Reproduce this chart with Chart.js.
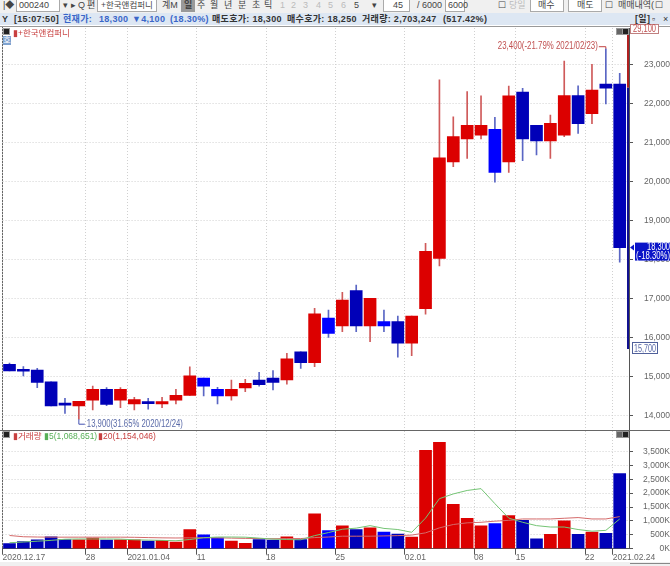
<!DOCTYPE html>
<html lang="ko">
<head>
<meta charset="utf-8">
<title>한국앤컴퍼니</title>
<script src="https://cdn.jsdelivr.net/npm/chart.js@4/dist/chart.umd.min.js"></script>
<style>
  html, body { margin: 0; padding: 0; background: #fff; }
  body { width: 670px; height: 566px; position: relative; overflow: hidden;
         font: 9px "Liberation Sans", "Noto Sans CJK KR", sans-serif; color: #444; }
  canvas { position: absolute; left: 0; }
  .bar { position: absolute; left: 0; width: 670px; }
  .t { position: absolute; white-space: nowrap; }
  .box { position: absolute; border: 1px solid #aaa; background: #fff; box-sizing: border-box; }
  .dim { color: #bbb; }
  #top { top: 0; height: 13px; background: #f0f0f0; overflow: hidden; }
  #top .t { top: 0; line-height: 11px; }
  #info { top: 13px; height: 12px; background: #dde7f3; font-weight: bold; color: #333; letter-spacing: .3px; }
  #info .t { top: 0; line-height: 12px; }
  .blue { color: #3a66c8; }
  .line { position: absolute; background: #666; }
  .mini { position: absolute; width: 5px; height: 5px; background: #222; border: 1px solid #999; }
  .legend { position: absolute; line-height: 11px; font-size: 8.5px; }
</style>
</head>
<body>
<div class="bar" id="top">
  <span class="t" style="left:3px">|◆</span>
  <div class="box" style="left:16px;top:-3px;width:44px;height:15px"></div>
  <span class="t" style="left:19px">000240</span>
  <span class="t" style="left:63px">▾</span><span class="t" style="left:71px">▸</span>
  <span class="t" style="left:78px">Q</span><span class="t" style="left:87px">편</span>
  <div class="box" style="left:97px;top:-3px;width:60px;height:15px"></div>
  <span class="t" style="left:101px;font-size:8.5px">+한국앤컴퍼니</span>
  <span class="t" style="left:162px">계M</span>
  <div style="position:absolute;left:181px;top:0;width:14px;height:12px;background:#999"></div>
  <span class="t" style="left:184px;font-weight:bold">일</span>
  <span class="t" style="left:197px">주</span><span class="t" style="left:210px">월</span>
  <span class="t" style="left:224px">년</span><span class="t" style="left:238px">분</span>
  <span class="t" style="left:252px">초</span><span class="t" style="left:264px">틱</span>
  <span class="t dim" style="left:280px">1</span><span class="t dim" style="left:291px">2</span>
  <span class="t dim" style="left:303px">3</span><span class="t dim" style="left:316px">4</span>
  <span class="t dim" style="left:328px">5</span><span class="t dim" style="left:341px">6</span>
  <span class="t" style="left:354px">5</span><span class="t" style="left:372px">▾</span>
  <div class="box" style="left:383px;top:-3px;width:27px;height:15px"></div>
  <span class="t" style="left:393px">45</span>
  <span class="t" style="left:417px">/ 6000</span>
  <div class="box" style="left:445px;top:-3px;width:20px;height:15px"></div>
  <span class="t" style="left:448px">6000</span>
  <span class="t" style="left:498px">☐</span><span class="t dim" style="left:509px">당일</span>
  <div class="box" style="left:530px;top:-3px;width:34px;height:15px"></div>
  <span class="t" style="left:538px">매수</span>
  <div class="box" style="left:568px;top:-3px;width:34px;height:15px"></div>
  <span class="t" style="left:577px">매도</span>
  <span class="t" style="left:605px">☐</span><span class="t" style="left:618px">매매내역(</span>
  <span class="t" style="left:655px">☐</span>
</div>
<div class="bar" id="info">
  <span class="t" style="left:2px">Y</span>
  <span class="t" style="left:14px">[15:07:50]</span>
  <span class="t blue" style="left:63px">현재가:</span>
  <span class="t blue" style="left:99px">18,300</span>
  <span class="t blue" style="left:132px">▼4,100</span>
  <span class="t blue" style="left:170px">(18.30%)</span>
  <span class="t" style="left:212px">매도호가: 18,300</span>
  <span class="t" style="left:287px">매수호가: 18,250</span>
  <span class="t" style="left:362px">거래량: 2,703,247</span>
  <span class="t" style="left:443px">(517.42%)</span>
  <span class="t" style="left:635px">[일]</span>
  <span class="t" style="left:652px;font-weight:normal">▫</span>
  <span class="t" style="left:663px;font-weight:normal">×</span>
</div>

<div class="line" style="left:0;top:26px;width:670px;height:1px;background:#999"></div>
<div class="line" style="left:2px;top:27px;width:1px;height:522px"></div>
<div class="line" style="left:0;top:430px;width:670px;height:1px"></div>

<canvas id="chart-price" width="670" height="406" style="top:24px"></canvas>
<canvas id="chart-volume" width="670" height="135" style="top:431px"></canvas>

<div class="mini" style="left:3px;top:28px"></div>
<div class="mini" style="left:3px;top:431px"></div>
<div style="position:absolute;left:3px;top:36px;width:8px;height:9px;background:#7fa3d0;color:#fff;font-size:8px;line-height:9px;text-align:center">호</div>
<div class="mini" style="left:616px;top:28px;background:#666"></div>
<div class="mini" style="left:622px;top:28px"></div>
<div class="mini" style="left:616px;top:431px;background:#666"></div>
<div class="mini" style="left:622px;top:431px"></div>

<div class="legend" style="left:13px;top:28px;color:#c84040">▮+한국앤컴퍼니</div>
<div class="legend" style="left:13px;top:431px;color:#c84040">▮거래량</div>
<div class="legend" style="left:44px;top:431px;color:#58b058">▮5(1,068,651)</div>
<div class="legend" style="left:98px;top:431px;color:#c84040">▮20(1,154,046)</div>

<div class="bar" style="top:562px;height:4px;background:#f0f0f0"></div>
<div class="line" style="left:630px;top:563px;width:40px;height:1px;background:#888"></div>

<script>
// ── Data ──────────────────────────────────────────────────────────────────────
const DATES = [
  '2020.12.17', '12.18', '12.21', '12.22', '12.23', '12.24', '12.28', '12.29', '12.30',
  '2021.01.04', '01.05', '01.06', '01.07', '01.08', '01.11', '01.12', '01.13', '01.14', '01.15',
  '01.18', '01.19', '01.20', '01.21', '01.22', '01.25', '01.26', '01.27', '01.28', '01.29',
  '02.01', '02.02', '02.03', '02.04', '02.05', '02.08', '02.09', '02.10', '02.15', '02.16',
  '02.17', '02.18', '02.19', '02.22', '02.23', '2021.02.24',
]
const OPENS = [
  15308, 15140, 15160, 14860, 14306, 14240, 14390, 14665, 14390, 14290, 14310, 14290, 14390, 14510, 14955,
  14665, 14500, 14700, 14905, 14955, 14905, 15630, 15350, 16495, 16290, 17195, 16290, 16400, 16400, 15850,
  16735, 18025, 20495, 21085, 21180, 21335, 20495, 22290, 21435, 21035, 21185, 22195, 21735, 22490, 22490,
]
const CLOSES = [
  15136, 15130, 14845, 14240, 14260, 14360, 14665, 14280, 14665, 14400, 14300, 14350, 14510, 15010, 14750,
  14500, 14665, 14820, 14785, 14845, 15445, 15350, 16600, 16100, 16955, 16290, 17000, 16290, 15850, 16545,
  18205, 20600, 21145, 21435, 21435, 20230, 22190, 21085, 21035, 21485, 22195, 21475, 22340, 22385, 18300,
]
const HIGHS = [
  15341, 15250, 15205, 14860, 14435, 14360, 14750, 14710, 14710, 14460, 14435, 14460, 14665, 15245, 14955,
  14715, 14905, 14925, 15100, 15145, 15590, 15630, 16745, 16700, 17155, 17340, 17000, 16700, 16545, 16545,
  18410, 22600, 21655, 22300, 22190, 21640, 22440, 22385, 21435, 21700, 23085, 22445, 23000, 23400, 22770,
]
const LOWS = [
  15136, 15010, 14710, 14240, 14050, 13900, 14135, 14245, 14195, 14135, 14155, 14195, 14290, 14510, 14500,
  14290, 14390, 14605, 14750, 14650, 14800, 15205, 15245, 16000, 16145, 16145, 15890, 16145, 15490, 15530,
  16590, 17830, 20375, 20590, 21085, 19980, 20230, 20530, 20675, 20590, 21145, 21230, 21480, 21985, 17925,
]
// volume in thousands of shares
const VOLUMES = [
  180, 260, 320, 430, 330, 320, 380, 310, 320, 320, 270, 300, 240, 690, 500,
  390, 270, 190, 330, 310, 430, 330, 1250, 650, 820, 690, 750, 600, 530, 420,
  3535, 3830, 1600, 1095, 820, 900, 1190, 1020, 355, 520, 1000, 520, 600, 550, 2703,
]
const VOLUME_MA5 = [
  215, 240, 270, 300, 340, 350, 350, 350, 345, 320, 310, 300, 285, 330, 395,
  420, 420, 415, 380, 345, 330, 320, 470, 580, 700, 740, 830, 730, 690, 590,
  1100, 1800, 1970, 2095, 2160, 1620, 1100, 950, 830, 780, 780, 690, 630, 660, 1069,
]
const VOLUME_MA20 = [
  475, 430, 420, 415, 415, 415, 415, 415, 415, 410, 400, 390, 385, 390, 395,
  390, 380, 370, 365, 360, 365, 365, 400, 420, 450, 450, 450, 460, 470, 490,
  570, 750, 870, 930, 950, 990, 1020, 1070, 1070, 1070, 1095, 1120, 1070, 1070, 1154,
]
const PRICE_TICKS  = [14000, 15000, 16000, 17000, 18000, 19000, 20000, 21000, 22000, 23000]
const VOLUME_TICKS = [0, 500, 1000, 1500, 2000, 2500, 3000, 3500]
const AXIS_LABELS  = { 0: '2020.12.17', 6: '28', 9: '2021.01.04', 14: '11', 19: '18', 24: '25', 29: '02.01', 34: '08', 37: '15', 42: '22', 44: '2021.02.24' }
const BRIGHT_BLUE  = [14, 15, 23, 27, 35]

const UPPER_LIMIT = 29100
const LOWER_LIMIT = 15700
const PREV_CLOSE  = 22400
const LAST_PRICE  = 18300

// ── Colors ────────────────────────────────────────────────────────────────────
const RED        = '#dc0000'
const BLUE       = '#0000b8'
const BRIGHT     = '#0000ff'
const RED_WICK   = '#cf5a5a'
const BLUE_WICK  = '#5a66c4'
const GRID       = '#d0d0d0'
const AXIS       = '#555'
const TICK_TEXT  = '#666'
const FAMILY     = '"Liberation Sans", sans-serif'
const FONT       = { family: FAMILY, size: 8.5 }

// ── Helpers ───────────────────────────────────────────────────────────────────
function fmt(n) { return n.toLocaleString('en-US') }

function bodyColor(i) {
  if (CLOSES[i] >= OPENS[i]) return RED
  return BRIGHT_BLUE.includes(i) ? BRIGHT : BLUE
}

function xAxis(showLabels) {
  return {
    type: 'linear',
    offset: false,
    min: -0.5,
    max: 44.67,
    afterBuildTicks: s => { s.ticks = Object.keys(AXIS_LABELS).map(i => ({ value: Number(i) - 0.5 })) },
    afterFit: s => { s.paddingLeft = 0; s.paddingRight = 0; s.height = showLabels ? 17.3 : 0 },
    grid: { offset: false, color: GRID, drawTicks: showLabels, tickLength: 6, tickColor: AXIS, tickBorderDash: [] },
    border: { display: showLabels, color: AXIS, dash: [1, 2] },
    ticks: {
      display: showLabels,
      autoSkip: false,
      maxRotation: 0,
      align: 'start',
      padding: -2,
      color: TICK_TEXT,
      font: FONT,
      callback: v => AXIS_LABELS[v + 0.5] ?? '',
    },
  }
}

function yAxis(tickValues, min, max, format) {
  return {
    position: 'right',
    min,
    max,
    afterBuildTicks: s => { s.ticks = tickValues.map(value => ({ value })) },
    afterFit: s => { s.width = 41; s.paddingTop = 0; s.paddingBottom = 0 },
    grid: { color: GRID, tickLength: 4, tickColor: AXIS, tickBorderDash: [] },
    border: { color: AXIS, dash: [1, 2] },
    ticks: { color: TICK_TEXT, font: FONT, padding: 0, crossAlign: 'far', callback: format },
  }
}

const baseOptions = {
  responsive: false,
  animation: false,
  devicePixelRatio: 1,
  plugins: { legend: { display: false }, tooltip: { enabled: false } },
}

// ── Price annotations: limit bar, high/low callouts, last price box ───────────
const priceMarks = {
  id: 'priceMarks',
  afterDraw(chart) {
    const { ctx, chartArea, scales: { x, y } } = chart
    const right = chartArea.right
    ctx.save()

    // limit range bar on the axis
    ctx.lineWidth = 2
    ctx.strokeStyle = '#b02020'
    ctx.beginPath()
    ctx.moveTo(right - 1, chartArea.top)
    ctx.lineTo(right - 1, y.getPixelForValue(PREV_CLOSE))
    ctx.stroke()
    ctx.strokeStyle = '#101090'
    ctx.beginPath()
    ctx.moveTo(right - 1, y.getPixelForValue(PREV_CLOSE))
    ctx.lineTo(right - 1, y.getPixelForValue(LOWER_LIMIT))
    ctx.stroke()

    ctx.font = `10px ${FAMILY}`
    ctx.textBaseline = 'middle'
    ctx.lineWidth = 1

    // high callout
    const hx = x.getPixelForValue(43)
    const hy = y.getPixelForValue(HIGHS[43])
    ctx.strokeStyle = '#c04040'
    ctx.beginPath()
    ctx.moveTo(hx, hy)
    ctx.lineTo(hx, hy - 2)
    ctx.lineTo(hx - 7, hy - 2)
    ctx.stroke()
    ctx.fillStyle = '#c05050'
    ctx.textAlign = 'right'
    ctx.fillText('23,400(-21.79% 2021/02/23)', hx - 8, hy - 2, 100)

    // low callout
    const lx = x.getPixelForValue(5)
    const ly = y.getPixelForValue(LOWS[5])
    ctx.strokeStyle = '#4050b0'
    ctx.beginPath()
    ctx.moveTo(lx, ly)
    ctx.lineTo(lx, ly + 5)
    ctx.lineTo(lx + 6, ly + 5)
    ctx.stroke()
    ctx.fillStyle = '#5a6aa8'
    ctx.textAlign = 'left'
    ctx.fillText('13,900(31.65% 2020/12/24)', lx + 8, ly + 5, 96)

    // upper / lower limit boxes
    ctx.textAlign = 'left'
    ctx.fillStyle = '#fff'
    ctx.fillRect(right + 1, chartArea.top - 3, 29, 9)
    ctx.strokeStyle = '#c08080'
    ctx.strokeRect(right + 1.5, chartArea.top - 3.5, 28, 9)
    ctx.fillStyle = '#c05050'
    ctx.fillText(fmt(UPPER_LIMIT), right + 4, chartArea.top + 1, 23)

    const lowY = y.getPixelForValue(LOWER_LIMIT)
    ctx.fillStyle = '#fff'
    ctx.fillRect(right + 3, lowY - 6, 26, 11)
    ctx.strokeStyle = '#50609a'
    ctx.strokeRect(right + 3.5, lowY - 6.5, 25, 11)
    ctx.fillStyle = '#5a6aa8'
    ctx.fillText(fmt(LOWER_LIMIT), right + 5, lowY, 22)

    // current price box
    const lastY = y.getPixelForValue(LAST_PRICE)
    ctx.fillStyle = '#0a14c8'
    ctx.fillRect(right + 6, lastY - 5, 35, 18)
    ctx.beginPath()
    ctx.moveTo(right + 1, lastY)
    ctx.lineTo(right + 5, lastY - 3)
    ctx.lineTo(right + 5, lastY + 3)
    ctx.fill()
    ctx.fillStyle = '#fff'
    ctx.textAlign = 'right'
    ctx.fillText(fmt(LAST_PRICE), 670, lastY, 23)
    ctx.fillText('(-18.30%)', 670, lastY + 9, 34)

    ctx.restore()
  },
}

// ── Price chart ───────────────────────────────────────────────────────────────
new Chart(document.getElementById('chart-price'), {
  type: 'bar',
  data: {
    datasets: [
      {
        data: HIGHS.map((h, i) => ({ x: i, y: [LOWS[i], h] })),
        backgroundColor: CLOSES.map((c, i) => (c >= OPENS[i] ? RED_WICK : BLUE_WICK)),
        barThickness: 1,
        grouped: false,
        order: 2,
      },
      {
        data: OPENS.map((o, i) => ({ x: i, y: [o, CLOSES[i]] })),
        backgroundColor: OPENS.map((_, i) => bodyColor(i)),
        barThickness: 12,
        minBarLength: 2,
        grouped: false,
        order: 1,
      },
    ],
  },
  options: {
    ...baseOptions,
    layout: { padding: { left: 2.57, top: 4, right: 0, bottom: 0 } },
    scales: {
      x: xAxis(false),
      y: yAxis(PRICE_TICKS, 13623, 23931, v => fmt(v)),
    },
  },
  plugins: [priceMarks],
})

// ── Volume chart ──────────────────────────────────────────────────────────────
new Chart(document.getElementById('chart-volume'), {
  type: 'bar',
  data: {
    datasets: [
      {
        type: 'line',
        data: VOLUME_MA5.map((v, i) => ({ x: i, y: v })),
        borderColor: '#74c474',
        borderWidth: 1,
        pointRadius: 0,
        order: 0,
      },
      {
        type: 'line',
        data: VOLUME_MA20.map((v, i) => ({ x: i, y: v })),
        borderColor: '#d46a6a',
        borderWidth: 1,
        pointRadius: 0,
        order: 0,
      },
      {
        data: VOLUMES.map((v, i) => ({ x: i, y: v })),
        backgroundColor: VOLUMES.map((_, i) => bodyColor(i)),
        barThickness: 12,
        grouped: false,
        order: 1,
      },
    ],
  },
  options: {
    ...baseOptions,
    layout: { padding: { left: 2.57, top: 0, right: 0, bottom: 0 } },
    scales: {
      x: xAxis(true),
      y: yAxis(VOLUME_TICKS, 0, 4234, v => `${fmt(v)}K`),
    },
  },
})
</script>
</body>
</html>
